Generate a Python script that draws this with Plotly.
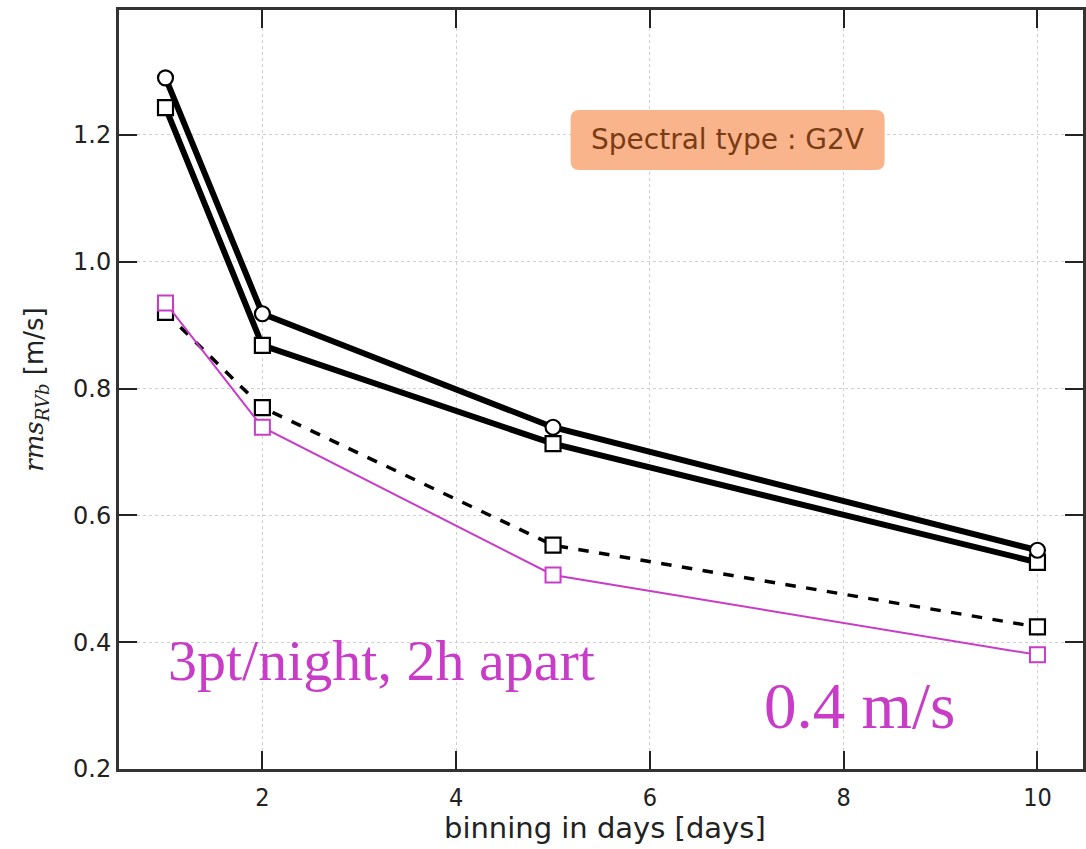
import plotly.graph_objects as go

binning = [1, 2, 5, 10]
rms_circle = [1.290, 0.918, 0.739, 0.545]
rms_square = [1.243, 0.868, 0.713, 0.526]
rms_dashed = [0.920, 0.770, 0.553, 0.424]
rms_magenta = [0.935, 0.739, 0.506, 0.380]

x_ticks = [2, 4, 6, 8, 10]
y_ticks = [0.2, 0.4, 0.6, 0.8, 1.0, 1.2]

W, H = 1086, 849
L, R, T, B = 119, 0, 10, 80
PW, PH = W - L - R, H - T - B

MAG = "#c83cc8"

fig = go.Figure()

fig.add_trace(go.Scatter(x=binning, y=rms_dashed, mode="lines+markers",
    line=dict(color="black", width=3.5, dash="dash"),
    marker=dict(symbol="square", size=15, color="white", line=dict(color="black", width=2.2))))
fig.add_trace(go.Scatter(x=binning, y=rms_magenta, mode="lines+markers",
    line=dict(color=MAG, width=2),
    marker=dict(symbol="square", size=15, color="white", line=dict(color=MAG, width=2))))
fig.add_trace(go.Scatter(x=binning, y=rms_square, mode="lines+markers",
    line=dict(color="black", width=6),
    marker=dict(symbol="square", size=15, color="white", line=dict(color="black", width=2.2))))
fig.add_trace(go.Scatter(x=binning, y=rms_circle, mode="lines+markers",
    line=dict(color="black", width=6),
    marker=dict(symbol="circle", size=15, color="white", line=dict(color="black", width=2.2))))

def px2paper(px, py):
    return (px - L) / PW, (H - B - py) / PH

# rounded box for spectral type
x0, y0, x1, y1, r = 572, 110, 887, 170, 9
def P(px, py):
    a, b = px2paper(px, py)
    return f"{a:.5f},{b:.5f}"
path = (f"M {P(x0 + r, y0)} L {P(x1 - r, y0)} Q {P(x1, y0)} {P(x1, y0 + r)} "
        f"L {P(x1, y1 - r)} Q {P(x1, y1)} {P(x1 - r, y1)} "
        f"L {P(x0 + r, y1)} Q {P(x0, y1)} {P(x0, y1 - r)} "
        f"L {P(x0, y0 + r)} Q {P(x0, y0)} {P(x0 + r, y0)} Z")
fig.add_shape(type="path", path=path, xref="paper", yref="paper",
              fillcolor="#f9b48c", line=dict(width=0), layer="above")

cx, cy = px2paper((x0 + x1) / 2, (y0 + y1) / 2)
fig.add_annotation(x=cx, y=cy, xref="paper", yref="paper", text="Spectral type : G2V",
                   showarrow=False, xanchor="center", yanchor="middle",
                   font=dict(family="DejaVu Sans", size=28, color="#7a3c14"))

ax, ay = px2paper(382, 660)
fig.add_annotation(x=ax, y=ay, xref="paper", yref="paper", text="3pt/night, 2h apart",
                   showarrow=False, xanchor="center", yanchor="middle",
                   font=dict(family="Liberation Serif", size=58, color=MAG))
bx, by = px2paper(862, 706)
fig.add_annotation(x=bx, y=by, xref="paper", yref="paper", text="0.4 m/s",
                   showarrow=False, xanchor="center", yanchor="middle",
                   font=dict(family="Liberation Serif", size=65, color=MAG))

# x-axis title placed precisely
xtx, xty = px2paper(607, 828)
fig.add_annotation(x=xtx, y=xty, xref="paper", yref="paper", text="binning in days [days]",
                   showarrow=False, xanchor="center", yanchor="middle",
                   font=dict(family="DejaVu Sans", size=29, color="#222"))

# title, cut off at the top edge as in the reference
tx, ty = px2paper(600, 6)
fig.add_annotation(x=tx, y=ty, xref="paper", yref="paper", text="α Cen A",
                   showarrow=False, xanchor="center", yanchor="bottom",
                   font=dict(family="DejaVu Sans", size=22, color="#333"))

axis_common = dict(showline=True, linecolor="#333", linewidth=3, mirror="ticks",
                   ticks="inside", ticklen=18, tickwidth=2, tickcolor="#222",
                   showgrid=True, gridcolor="#cfcfcf", griddash="dot", gridwidth=1.3,
                   zeroline=False)

fig.update_xaxes(range=[0.52, 10.47], tickvals=x_ticks, ticktext=[str(v) for v in x_ticks],
                 tickfont=dict(family="DejaVu Sans Condensed", size=25, color="#222"),
                 ticklabelstandoff=4,
                 **axis_common)
fig.update_yaxes(range=[0.2, 1.397], tickvals=y_ticks, ticktext=[f"{v:.1f}" for v in y_ticks],
                 tickfont=dict(family="DejaVu Sans", size=24, color="#222"),
                 title=dict(text="<span style='font-family:DejaVu Serif'><i>rms</i><sub><i>RVb</i></sub></span> [m/s]",
                            font=dict(family="DejaVu Sans", size=26, color="#222"), standoff=22),
                 **axis_common)

fig.update_layout(width=W, height=H, margin=dict(l=L, r=R, t=T, b=B),
                  plot_bgcolor="white", paper_bgcolor="white", showlegend=False)

fig.write_html("out.html")
